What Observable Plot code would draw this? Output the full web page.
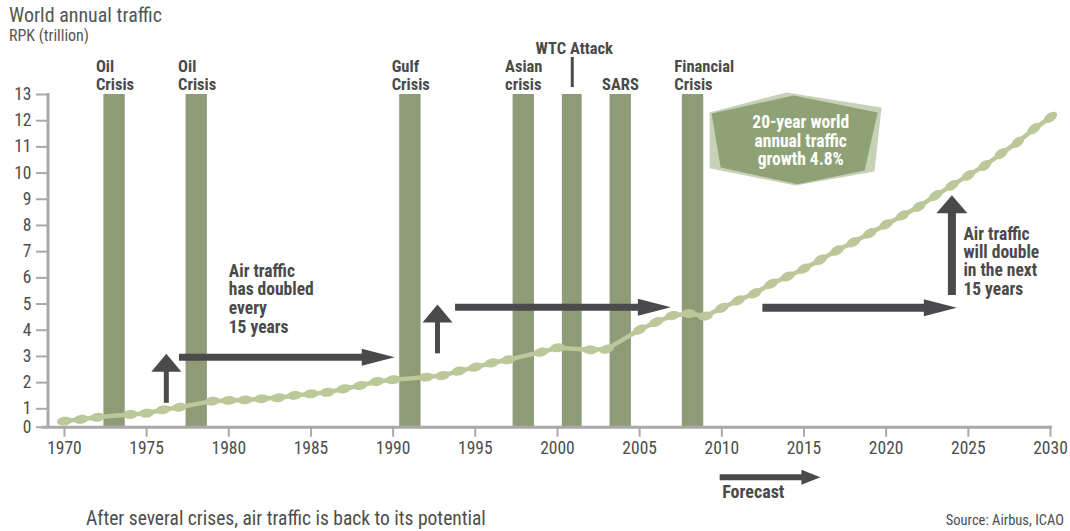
<!DOCTYPE html>
<html>
<head>
<meta charset="utf-8">
<script src="https://cdn.jsdelivr.net/npm/d3@7"></script>
<script src="https://cdn.jsdelivr.net/npm/@observablehq/plot@0.6"></script>
<style>
html, body { margin: 0; padding: 0; background: #fff; }
body { width: 1070px; height: 531px; overflow: hidden; position: relative;
  font-family: "Liberation Sans Narrow", "Roboto Condensed", "DejaVu Sans Condensed", "Liberation Sans", sans-serif;
  font-stretch: condensed; color: #555; }
#title { position: absolute; left: 9px; top: 4px; font-size: 20px; line-height: 22px; white-space: nowrap; }
#sub { position: absolute; left: 9px; top: 27px; font-size: 16px; line-height: 18px; white-space: nowrap; }
#chart { position: absolute; left: 0; top: 44px; }
#caption { position: absolute; left: 86px; top: 508px; font-size: 19.5px; line-height: 22px; color: #4d4d4d; white-space: nowrap; }
#source { position: absolute; right: 6px; top: 513px; font-size: 14.5px; line-height: 16px; color: #4d4d4d; white-space: nowrap; }
</style>
</head>
<body>
<div id="title">World annual traffic</div>
<div id="sub">RPK (trillion)</div>
<div id="chart"></div>
<div id="caption">After several crises, air traffic is back to its potential</div>
<div id="source">Source: Airbus, ICAO</div>
<script>
// ---------- data ----------
const years = [1970,1971,1972,1973,1974,1975,1976,1977,1978,1979,
  1980,1981,1982,1983,1984,1985,1986,1987,1988,1989,
  1990,1991,1992,1993,1994,1995,1996,1997,1998,1999,
  2000,2001,2002,2003,2004,2005,2006,2007,2008,2009,
  2010,2011,2012,2013,2014,2015,2016,2017,2018,2019,
  2020,2021,2022,2023,2024,2025,2026,2027,2028,2029,2030];
const rpk = [0.33,0.43,0.54,0.62,0.69,0.76,0.95,1.06,1.18,1.29,
  1.32,1.34,1.38,1.42,1.51,1.57,1.63,1.76,1.89,2.04,
  2.11,2.16,2.21,2.27,2.44,2.59,2.75,2.87,3.02,3.16,
  3.33,3.29,3.25,3.28,3.65,4.02,4.31,4.56,4.63,4.54,
  4.85,5.14,5.41,5.77,6.05,6.35,6.69,7.04,7.36,7.70,
  8.04,8.38,8.72,9.14,9.53,9.91,10.29,10.74,11.18,11.69,12.13];
const noMarkerYears = [1973, 1978, 1991, 1998, 2001, 2004];

const crisisNames = ["Oil\nCrisis", "Oil\nCrisis", "Gulf\nCrisis", "Asian\ncrisis", "WTC Attack", "SARS", "Financial\nCrisis"];
const crisisStart = [1972.4, 1977.4, 1990.4, 1997.3, 2000.3, 2003.2, 2007.6];
const crisisEnd   = [1973.7, 1978.7, 1991.7, 1998.6, 2001.5, 2004.5, 2008.9];

const xTicks = [1970,1975,1980,1985,1990,1995,2000,2005,2010,2015,2020,2025,2030];
const yTicks = [0,1,2,3,4,5,6,7,8,9,10,11,12,13];

// arrows (tips are the "to" ends)
const hArrowY    = [2.97, 4.88, 4.86];
const hArrowFrom = [1977.0, 1993.8, 2012.5];
const hArrowTo   = [1990.1, 2006.9, 2024.3];
const vArrowX    = [1976.2, 1992.7, 2024.0];
const vArrowFrom = [1.21, 3.10, 5.33];
const vArrowTo   = [3.10, 4.98, 9.15];
const forecastFrom = 2009.9, forecastTo = 2016.0;

const noteLeft  = {text: "Air traffic\nhas doubled\nevery\n15 years", year: 1980.0, value: 6.55};
const noteRight = {text: "Air traffic\nwill double\nin the next\n15 years", year: 2024.7, value: 7.96};
const noteBox   = {text: "20-year world\nannual traffic\ngrowth 4.8%", year: 2014.8, value: 12.2};
const boxBackX  = [2009.26, 2013.94, 2019.72, 2019.29, 2014.49, 2009.26];
const boxBackY  = [12.31, 13.08, 12.50, 10.06, 9.53, 10.18];
const boxFrontX = [2009.38, 2014.37, 2019.48, 2018.69, 2014.61, 2009.93];
const boxFrontY = [12.27, 12.96, 12.31, 10.10, 9.57, 10.21];

// ---------- tables ----------
const traffic = years.map((year, i) => ({year, value: rpk[i]}));
const crises = crisisNames.map((name, i) => ({name, start: crisisStart[i], end: crisisEnd[i]}));
const hArrows = hArrowY.map((y, i) => ({y, from: hArrowFrom[i], to: hArrowTo[i]}));
const vArrows = vArrowX.map((x, i) => ({x, from: vArrowFrom[i], to: vArrowTo[i]}));
const boxBack = boxBackX.map((x, i) => ({x, y: boxBackY[i]}));
const boxFront = boxFrontX.map((x, i) => ({x, y: boxFrontY[i]}));

// ---------- styles ----------
const DARK = "#4a4a4c", BAR = "#8d9b77", LINE = "#bcc79a", AXIS = "#a9a9a9", TXT = "#4a4a4a";
const FONT = '"Liberation Sans Narrow", "Roboto Condensed", "DejaVu Sans Condensed", "Liberation Sans", sans-serif';

const xOpts = {type: "linear", domain: [1969, 2030], range: [47.5, 1050]};
const yOpts = {type: "linear", domain: [0, 1, 13], range: [382.7, 364.3, 50]};

// bead orientation along the line
const xs = Plot.scale({x: xOpts}), ys = Plot.scale({y: yOpts});
traffic.forEach((d, i) => {
  const a = traffic[Math.max(0, i - 1)], b = traffic[Math.min(traffic.length - 1, i + 1)];
  d.angle = Math.atan2(ys.apply(b.value) - ys.apply(a.value), xs.apply(b.year) - xs.apply(a.year)) * 180 / Math.PI;
});

const ellipse = {draw(ctx) {
  const a = 7.5, b = 4.4, k = 0.5523;
  ctx.moveTo(a, 0);
  ctx.bezierCurveTo(a, b * k, a * k, b, 0, b);
  ctx.bezierCurveTo(-a * k, b, -a, b * k, -a, 0);
  ctx.bezierCurveTo(-a, -b * k, -a * k, -b, 0, -b);
  ctx.bezierCurveTo(a * k, -b, a, -b * k, a, 0);
  ctx.closePath();
}};
const headRight = (len, half) => ({draw(ctx) { ctx.moveTo(0, 0); ctx.lineTo(-len, -half); ctx.lineTo(-len, half); ctx.closePath(); }});
const headUp = (len, half) => ({draw(ctx) { ctx.moveTo(0, 0); ctx.lineTo(-half, len); ctx.lineTo(half, len); ctx.closePath(); }});

const beads = traffic.filter(d => !noMarkerYears.includes(d.year));
const wtc = crises.filter(d => d.name === "WTC Attack");
const otherCrises = crises.filter(d => d.name !== "WTC Attack");

const chart = Plot.plot({
  width: 1070,
  height: 456,
  marginTop: 50,
  marginBottom: 73.3,
  marginLeft: 48,
  marginRight: 20,
  x: xOpts,
  y: yOpts,
  style: {fontFamily: FONT, fontSize: "17px", color: TXT, background: "white", overflow: "visible"},
  marks: [
    // crisis bars
    Plot.rect(crises, {x1: "start", x2: "end", y1: 0, y2: 13, fill: BAR}),
    // growth box
    Plot.line(boxBack, {x: "x", y: "y", fill: "#c7d1b5", stroke: "none"}),
    Plot.line(boxFront, {x: "x", y: "y", fill: "#8fa276", stroke: "none"}),
    Plot.text([noteBox], {x: "year", y: "value", text: "text", textAnchor: "middle", lineAnchor: "top",
      fill: "white", fontSize: 17.5, fontWeight: 700, lineHeight: 1.04}),
    // axes
    Plot.ruleX([1969], {y1: 13, y2: 0, stroke: AXIS, strokeWidth: 3, insetTop: -1}),
    Plot.axisY({ticks: yTicks, tickSize: 12, tickPadding: 5, stroke: AXIS, strokeWidth: 2, fill: "#4d4d4d", fontSize: 17.5, label: null}),
    Plot.axisX({ticks: xTicks, tickSize: 10, tickPadding: 4, tickFormat: d => String(d), stroke: AXIS, strokeWidth: 2, fill: "#4d4d4d", fontSize: 17.5, label: null}),
    Plot.ruleY([0], {x1: 1969, x2: 2030, stroke: AXIS, strokeWidth: 3, insetLeft: -6, insetRight: -2}),
    // traffic line with beads
    Plot.line(traffic, {x: "year", y: "value", stroke: LINE, strokeWidth: 4.5}),
    Plot.dot(beads, {x: "year", y: "value", symbol: ellipse, rotate: "angle", fill: LINE, stroke: "none"}),
    // crisis labels
    Plot.text(otherCrises, {x: "start", y: 13, text: "name", textAnchor: "start", lineAnchor: "bottom",
      dx: -8, dy: -5, fill: TXT, fontSize: 16.5, fontWeight: 700, lineHeight: 1.08}),
    Plot.text(wtc, {x: d => (d.start + d.end) / 2, y: 13, text: "name", textAnchor: "middle", lineAnchor: "bottom",
      dy: -41, dx: 2, fill: TXT, fontSize: 16.5, fontWeight: 700}),
    Plot.ruleX(wtc, {x: d => (d.start + d.end) / 2, y1: 13, y2: 13, insetTop: -37, insetBottom: 7, stroke: DARK, strokeWidth: 3}),
    // notes
    Plot.text([noteLeft], {x: "year", y: "value", text: "text", textAnchor: "start", lineAnchor: "top",
      fill: TXT, fontSize: 17.5, fontWeight: 700, lineHeight: 1.07}),
    Plot.text([noteRight], {x: "year", y: "value", text: "text", textAnchor: "start", lineAnchor: "top",
      fill: TXT, fontSize: 17.5, fontWeight: 700, lineHeight: 1.05}),
    // arrows
    Plot.ruleY(hArrows.slice(0, 2), {y: "y", x1: "from", x2: "to", stroke: DARK, strokeWidth: 7, insetRight: 30}),
    Plot.dot(hArrows.slice(0, 2), {x: "to", y: "y", symbol: headRight(33, 8.5), fill: DARK, stroke: "none"}),
    Plot.ruleY(hArrows.slice(2), {y: "y", x1: "from", x2: "to", stroke: DARK, strokeWidth: 8, insetRight: 30}),
    Plot.dot(hArrows.slice(2), {x: "to", y: "y", symbol: headRight(33, 8.5), fill: DARK, stroke: "none"}),
    Plot.ruleX(vArrows.slice(0, 2), {x: "x", y1: "to", y2: "from", stroke: DARK, strokeWidth: 5, insetTop: 15}),
    Plot.dot(vArrows.slice(0, 2), {x: "x", y: "to", symbol: headUp(18, 15), fill: DARK, stroke: "none"}),
    Plot.ruleX(vArrows.slice(2), {x: "x", y1: "to", y2: "from", stroke: DARK, strokeWidth: 8, insetTop: 15}),
    Plot.dot(vArrows.slice(2), {x: "x", y: "to", symbol: headUp(18, 15.5), fill: DARK, stroke: "none"}),
    // forecast marker
    Plot.ruleY([0], {x1: forecastFrom, x2: forecastTo, dy: 50, stroke: DARK, strokeWidth: 6, insetRight: 16}),
    Plot.dot([0], {x: forecastTo, y: 0, dy: 50, symbol: headRight(19, 7.5), fill: DARK, stroke: "none"}),
    Plot.text(["Forecast"], {x: forecastFrom, y: 0, dy: 71, dx: 2, textAnchor: "start", lineAnchor: "bottom",
      fill: TXT, fontSize: 18, fontWeight: 700})
  ]
});
document.getElementById("chart").appendChild(chart);
</script>
</body>
</html>
